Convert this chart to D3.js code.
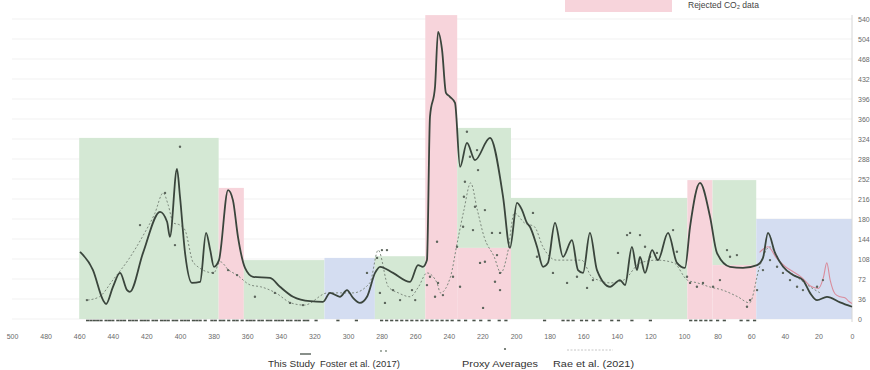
<!DOCTYPE html>
<html>
<head>
<meta charset="utf-8">
<script src="https://cdn.jsdelivr.net/npm/d3@7"></script>
<style>
  html, body { margin: 0; padding: 0; background: #fff; }
  svg { display: block; font-family: "Liberation Sans", "DejaVu Sans", sans-serif; }
</style>
</head>
<body>
<svg id="chart" width="870" height="370"></svg>
<script>
// Axis ticks
const xTicks = [500, 480, 460, 440, 420, 400, 380, 360, 340, 320, 300, 280, 260, 240, 220, 200, 180, 160, 140, 120, 100, 80, 60, 40, 20, 0];
const yTicks = [0, 36, 72, 108, 144, 180, 216, 252, 288, 324, 360, 396, 432, 468, 504, 540];

// Shaded intervals: [older age, younger age, lower value, upper value, kind]
const bandStart = [460, 377, 362, 314, 284, 254, 235, 235, 203, 98, 83, 83, 57];
const bandEnd   = [377, 362, 314, 284, 254, 235, 203, 203, 98, 83, 57, 57, 0];
const bandLow   = [0, 0, 0, 0, 0, 0, 128, 0, 0, 0, 97, 0, 0];
const bandHigh  = [326, 236, 106, 110, 113, 547, 344, 128, 218, 250, 250, 97, 180];
const bandKind  = ["keep", "reject", "keep", "cenozoic", "keep", "reject", "keep", "reject", "keep", "reject", "keep", "reject", "cenozoic"];

// This study: smoothed record
const studyAge = [459.5, 451.8, 445.8, 444, 439.9, 435.7, 431.5, 429.8, 422, 411.9, 407.7, 406, 401.8, 400, 397, 392.9, 388, 384.5, 382, 379.8, 376.8, 371.4, 368.5, 365.5, 361.3, 356.5, 346.4, 340.5, 332.7, 322.6, 314.9, 310.7, 304.8, 300.6, 297, 292.9,
  288.7, 283.9, 280.9, 273.2, 263.1, 258.3, 255.4, 253, 251.2, 248.2, 246.4, 244, 241.7, 239.3, 236.3, 233.3, 229.2, 224.4, 215.5, 207.7, 203.6, 199.4, 196.4, 193.5,
  191.7, 187.5, 183.9, 181, 176.8, 172, 166.7, 163.1, 160.1, 156, 151.8, 144, 138.1, 135.1, 131, 128, 126.2, 123.2, 119, 115.5, 109.5, 104.2, 99.4, 96.4, 90.5, 84.5, 80.4, 72.6, 64.9, 56.5, 53, 50, 45.8, 41, 35.1, 29.2, 25, 20.8, 14.9, 7.1, 0];
const studyValue = [121, 88, 34, 27, 58, 83, 52, 49, 119, 193, 175, 148, 270, 220, 119, 65, 67, 155, 124, 94, 106, 232, 214, 148, 92, 76, 74, 58, 40, 32, 31, 47, 40, 52, 38, 29,
  40, 83, 94, 83, 67, 97, 94, 106, 364, 418, 517, 484, 407, 400, 389, 274, 317, 286, 326, 220, 128, 209, 196, 173,
  166, 130, 94, 101, 173, 112, 142, 88, 83, 155, 88, 58, 70, 61, 130, 88, 112, 83, 124, 106, 155, 101, 92, 166, 245, 184, 119, 94, 92, 97, 110, 155, 119, 94, 79, 70, 47, 34, 40, 30, 22];

// Foster et al. (2017)
const fosterAge = [455, 448, 440, 430, 422, 415, 410, 407, 404, 400, 397, 392, 380, 376, 371, 366, 358, 352, 343, 334, 326, 312, 297, 287, 282, 276, 270, 263, 258, 253, 247, 245, 239, 235, 231, 227, 223, 219, 213, 209, 205, 201, 195, 189, 184, 176, 168, 161, 155, 151, 144, 136, 126, 116, 106, 98, 92, 85, 77, 68, 61, 55, 49, 41, 33, 25, 19];
const fosterValue = [34, 40, 70, 110, 150, 190, 227, 205, 173, 169, 160, 101, 83, 103, 88, 79, 61, 58, 47, 29, 25, 47, 47, 65, 124, 58, 47, 40, 58, 83, 65, 47, 76, 137, 196, 245, 196, 148, 112, 83, 119, 191, 173, 166, 130, 106, 106, 106, 76, 70, 65, 70, 101, 106, 101, 70, 65, 58, 52, 40, 29, 94, 130, 94, 76, 58, 47];

// Proxy averages
const proxyAge = [400, 408.9, 423.8, 403, 380.4, 371.4, 366, 355.4, 343.5, 334.5, 326.8, 455.4, 229.2, 223.2, 227.4, 222.6, 230.4, 231, 224.4, 218.5, 225.6, 231.5, 214.3, 209.5, 247, 235.1, 221.4, 218.5, 211.3, 209.5, 212.5, 209.5, 219.6, 246.4, 243.5, 248.2, 237.5, 233.3, 253, 251.2, 273.2, 269, 281, 278, 261.9, 260, 279.8, 276.8, 282.7, 288.7,
  189.9, 187.5, 178, 169.6, 163.7, 157.7, 154.2, 139.3, 133.9, 132.1, 126.2, 123.2, 120.2, 116.1, 106.5, 104.2, 98.2, 96.4, 92.3, 88.7, 82.7, 78.6, 74.4, 72.6, 68.5, 62.5, 60.7, 56.5, 53, 48.8, 44.6, 41.1, 36.9, 32.7, 29.2, 20.8, 17.3];
const proxyValue = [310, 227, 169, 133, 83, 88, 79, 40, 47, 29, 25, 34, 337, 304, 292, 268, 247, 220, 202, 196, 160, 166, 155, 155, 139, 130, 101, 103, 115, 83, 67, 52, 20, 65, 43, 40, 76, 58, 61, 76, 52, 34, 47, 29, 52, 34, 124, 124, 110, 83,
  191, 112, 83, 65, 76, 56, 70, 119, 151, 155, 151, 130, 112, 119, 160, 121, 76, 65, 58, 65, 58, 70, 124, 112, 115, 22, 34, 52, 88, 106, 94, 83, 70, 58, 52, 58, 70];

// Rae et al. (2021)
const raeAge = [55, 50, 45, 40, 35, 30, 25, 20, 17, 15, 13, 10, 7, 4, 2, 0];
const raeValue = [120, 130, 110, 95, 85, 75, 60, 55, 75, 101, 70, 45, 40, 38, 32, 28];

// Sample ages along the time axis
const sampleAge = [455, 453, 451, 449, 447, 444, 442, 440, 437, 435, 433, 430, 428, 426, 423, 421, 419, 416, 414, 411, 409, 407, 404, 402, 399, 397, 395, 392, 390, 388, 385, 381, 379, 376, 374, 371, 368, 366, 363, 360, 358, 356, 353, 351, 348, 346, 343, 341, 339, 336, 334, 331, 329, 326, 324, 319, 306, 295, 280, 277, 274, 271, 268, 265, 262, 259, 256, 253, 250, 247, 244, 241, 238, 234, 230, 225, 221, 216, 210, 206, 183, 172, 169, 166, 161, 158, 154, 150, 143, 139, 131, 120, 96, 93, 90, 87, 84, 80, 76, 66, 62, 58];

// Legend entries
const legendNames = ["This Study", "Foster et al. (2017)", "Proxy Averages", "Rae et al. (2021)"];

const svg = d3.select("#chart");
const x = d3.scaleLinear().domain([500, 0]).range([12, 852]);
const y = d3.scaleLinear().domain([0, 540]).range([319, 19]);

const bandFill = { keep: "#d4e8d4", reject: "#f7d4db", cenozoic: "#d4ddf1" };

// Horizontal grid
svg.append("g")
  .selectAll("line")
  .data(yTicks)
  .join("line")
  .attr("x1", 12).attr("x2", 852)
  .attr("y1", d => y(d)).attr("y2", d => y(d))
  .attr("stroke", "#f1f1f1").attr("stroke-width", 1);

// Shaded intervals
svg.append("g")
  .selectAll("rect")
  .data(bandStart.map((s, i) => ({ s, e: bandEnd[i], lo: bandLow[i], hi: bandHigh[i], k: bandKind[i] })))
  .join("rect")
  .attr("x", d => x(d.s))
  .attr("width", d => x(d.e) - x(d.s))
  .attr("y", d => y(d.hi))
  .attr("height", d => y(d.lo) - y(d.hi))
  .attr("fill", d => bandFill[d.k]);

// Right-hand value axis
const yAxis = d3.axisRight(y).tickValues(yTicks).tickSize(0).tickPadding(6);
const gy = svg.append("g").attr("transform", "translate(852,0)").call(yAxis);
gy.select(".domain").attr("stroke", "#d6d6d6").attr("d", "M0,15V322");
gy.selectAll("text").attr("fill", "#6a6a6a").style("font-size", "7px");

// Bottom time axis
const xAxis = d3.axisBottom(x).tickValues(xTicks).tickSize(0).tickPadding(0);
const gx = svg.append("g").attr("transform", "translate(0,334)").call(xAxis);
gx.select(".domain").remove();
gx.selectAll("text").attr("fill", "#6a6a6a").style("font-size", "7px");

// Sample positions
svg.append("g")
  .selectAll("line")
  .data(sampleAge)
  .join("line")
  .attr("x1", d => x(d) - 1.6).attr("x2", d => x(d) + 1.6)
  .attr("y1", 320.5).attr("y2", 320.5)
  .attr("stroke", "#4a524a").attr("stroke-width", 1.6);

// Foster et al. (2017)
svg.append("path")
  .datum(fosterAge.map((a, i) => [a, fosterValue[i]]))
  .attr("d", d3.line().x(d => x(d[0])).y(d => y(d[1])).curve(d3.curveMonotoneX))
  .attr("fill", "none")
  .attr("stroke", "#7d897d")
  .attr("stroke-width", 1)
  .attr("stroke-dasharray", "2,2");

// Rae et al. (2021)
svg.append("path")
  .datum(raeAge.map((a, i) => [a, raeValue[i]]))
  .attr("d", d3.line().x(d => x(d[0])).y(d => y(d[1])).curve(d3.curveMonotoneX))
  .attr("fill", "none")
  .attr("stroke", "#d98c9c")
  .attr("stroke-width", 1.1);

// Proxy averages
svg.append("g")
  .selectAll("circle")
  .data(proxyAge.map((a, i) => [a, proxyValue[i]]))
  .join("circle")
  .attr("cx", d => x(d[0]))
  .attr("cy", d => y(d[1]))
  .attr("r", 1.2)
  .attr("fill", "#5d665d");

// This study
svg.append("path")
  .datum(studyAge.map((a, i) => [a, studyValue[i]]))
  .attr("d", d3.line().x(d => x(d[0])).y(d => y(d[1])).curve(d3.curveMonotoneX))
  .attr("fill", "none")
  .attr("stroke", "#3a453c")
  .attr("stroke-width", 1.8)
  .attr("stroke-linejoin", "round");

// Top legend entry
svg.append("rect").attr("x", 565).attr("y", -4).attr("width", 107).attr("height", 16).attr("fill", "#f7d4db");
svg.append("text").attr("x", 688).attr("y", 8).attr("fill", "#444").style("font-size", "8.5px").text("Rejected CO₂ data");

// Bottom legend
const legendX = [268, 320, 462, 553];
const legendW = [47, 80, 76, 81];
svg.append("g").attr("fill", "#333").style("font-size", "9.5px")
  .selectAll("text")
  .data(legendNames)
  .join("text")
  .attr("x", (d, i) => legendX[i])
  .attr("y", 367)
  .attr("textLength", (d, i) => legendW[i])
  .attr("lengthAdjust", "spacingAndGlyphs")
  .text(d => d);
svg.append("line").attr("x1", 300).attr("x2", 311).attr("y1", 354).attr("y2", 354).attr("stroke", "#3a453c").attr("stroke-width", 1.2);
svg.append("circle").attr("cx", 381).attr("cy", 351).attr("r", 0.9).attr("fill", "#7d897d");
svg.append("circle").attr("cx", 386).attr("cy", 351).attr("r", 0.9).attr("fill", "#7d897d");
svg.append("circle").attr("cx", 505).attr("cy", 349).attr("r", 1.1).attr("fill", "#5d665d");
svg.append("line").attr("x1", 567).attr("x2", 613).attr("y1", 350).attr("y2", 350).attr("stroke", "#b8b8b8").attr("stroke-width", 0.8).attr("stroke-dasharray", "2,1.5");
</script>
</body>
</html>
